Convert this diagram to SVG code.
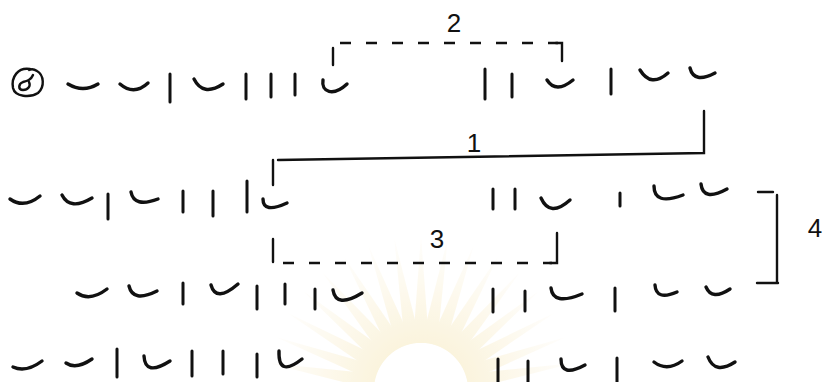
<svg xmlns="http://www.w3.org/2000/svg" xmlns:xlink="http://www.w3.org/1999/xlink" width="822" height="382" viewBox="0 0 822 382">
<style>
.b{fill:none;stroke:#111;stroke-width:3.4;stroke-linecap:round;stroke-linejoin:round}
.v{fill:none;stroke:#111;stroke-width:3;stroke-linecap:round}
.s{fill:none;stroke:#111;stroke-width:2.4;stroke-linecap:round}
.d{fill:none;stroke:#111;stroke-width:2.6;stroke-dasharray:11 15}
.lbl{font-family:"Liberation Sans",Arial,sans-serif;font-size:26px;fill:#111;text-anchor:middle}
</style>
<defs>
<radialGradient id="sun" gradientUnits="userSpaceOnUse" cx="421" cy="390" r="160">
<stop offset="0.25" stop-color="#f8ecc4"/>
<stop offset="0.6" stop-color="#fcf5e0"/>
<stop offset="1" stop-color="#ffffff"/>
</radialGradient>
<polygon id="ray" points="413,343 429,343 421,236" fill="url(#sun)"/>
</defs>
<rect width="822" height="382" fill="#fff"/>
<g id="watermark" opacity="0.6">
<use xlink:href="#ray" transform="rotate(-90 421 390)"/>
<use xlink:href="#ray" transform="rotate(-80 421 390)"/>
<use xlink:href="#ray" transform="rotate(-70 421 390)"/>
<use xlink:href="#ray" transform="rotate(-60 421 390)"/>
<use xlink:href="#ray" transform="rotate(-50 421 390)"/>
<use xlink:href="#ray" transform="rotate(-40 421 390)"/>
<use xlink:href="#ray" transform="rotate(-30 421 390)"/>
<use xlink:href="#ray" transform="rotate(-20 421 390)"/>
<use xlink:href="#ray" transform="rotate(-10 421 390)"/>
<use xlink:href="#ray"/>
<use xlink:href="#ray" transform="rotate(10 421 390)"/>
<use xlink:href="#ray" transform="rotate(20 421 390)"/>
<use xlink:href="#ray" transform="rotate(30 421 390)"/>
<use xlink:href="#ray" transform="rotate(40 421 390)"/>
<use xlink:href="#ray" transform="rotate(50 421 390)"/>
<use xlink:href="#ray" transform="rotate(60 421 390)"/>
<use xlink:href="#ray" transform="rotate(70 421 390)"/>
<use xlink:href="#ray" transform="rotate(80 421 390)"/>
<use xlink:href="#ray" transform="rotate(90 421 390)"/>
</g>

<g id="connectors">
<g id="bracket-2">
<path class="s" d="M333,48 V65"/>
<path class="d" d="M340,43 H558"/>
<path class="s" d="M556,43 H562 V61"/>
<text class="lbl" x="454" y="32">2</text>
</g>
<g id="bracket-1">
<path class="s" d="M273,160 V185"/>
<path class="s" d="M278,160 L704,153 V111"/>
<text class="lbl" x="474" y="152">1</text>
</g>
<g id="bracket-3">
<path class="s" d="M273,239 V262"/>
<path class="d" d="M283,263 H552"/>
<path class="s" d="M550,263 H557 V233"/>
<text class="lbl" x="437" y="248">3</text>
</g>
<g id="bracket-4">
<path class="s" d="M758,192 H773"/>
<path class="s" d="M777,195 V282"/>
<path class="s" d="M757,283 H778"/>
<text class="lbl" x="815" y="237">4</text>
</g>
</g>

<g id="line-1">
<g id="fongman">
<path class="s" stroke-width="3" d="M30,69 C18,67 11,77 13,88 C15,97 30,98 38,93 C45,87 44,75 37,71 C34,69 31,69 29,70"/>
<path class="s" stroke-width="2.6" d="M33,75 C31,80 27,81 23,82 C18,84 18,90 23,90 C28,90 31,86 29,82"/>
</g>
<path class="b" d="M68,84 Q83,93 98,84"/>
<path class="b" d="M120,84 Q134,96 148,83"/>
<path class="v" d="M170,74 V102"/>
<path class="b" d="M194,79 Q203,97 223,84"/>
<path class="v" d="M246,74 V99"/>
<path class="v" d="M271,74 V97"/>
<path class="v" d="M295,74 V95"/>
<path class="b" d="M323,80 C321,92 333,97 347,84"/>
<path class="v" d="M485,69 V99"/>
<path class="v" d="M512,74 V97"/>
<path class="b" d="M547,80 Q556,94 573,80"/>
<path class="v" d="M611,69 V94"/>
<path class="b" d="M640,70 Q651,88 668,73"/>
<path class="b" d="M690,68 Q694,84 715,73"/>
</g>

<g id="line-2">
<path class="b" d="M10,199 Q24,209 40,196"/>
<path class="b" d="M62,195 Q70,211 92,198"/>
<path class="v" d="M108,194 V219"/>
<path class="b" d="M131,192 Q134,208 158,199"/>
<path class="v" d="M183,191 V212"/>
<path class="v" d="M213,191 V216"/>
<path class="v" d="M247,181 V212"/>
<path class="b" d="M263,199 Q263,214 287,203"/>
<path class="v" d="M493,189 V209"/>
<path class="v" d="M515,189 V209"/>
<path class="b" d="M541,198 Q550,218 570,200"/>
<path class="v" d="M620,193 V206"/>
<path class="b" d="M654,186 Q654,206 683,195"/>
<path class="b" d="M701,184 Q703,202 727,189"/>
</g>

<g id="line-3">
<path class="b" d="M77,293 Q90,302 107,289"/>
<path class="b" d="M129,286 Q133,303 157,291"/>
<path class="v" d="M183,283 V304"/>
<path class="b" d="M211,285 Q216,303 238,284"/>
<path class="v" d="M257,286 V309"/>
<path class="v" d="M285,284 V304"/>
<path class="v" d="M315,289 V309"/>
<path class="b" d="M333,290 Q336,309 362,293"/>
<path class="v" d="M493,289 V312"/>
<path class="v" d="M525,291 V311"/>
<path class="b" d="M551,288 Q553,306 582,294"/>
<path class="v" d="M615,288 V311"/>
<path class="b" d="M655,285 Q656,301 677,292"/>
<path class="b" d="M706,287 Q712,301 730,289"/>
</g>

<g id="line-4">
<path class="b" d="M13,367 Q26,373 42,361"/>
<path class="b" d="M66,363 Q76,370 92,359"/>
<path class="v" d="M117,349 V377"/>
<path class="b" d="M144,356 Q145,377 170,361"/>
<path class="v" d="M192,351 V376"/>
<path class="v" d="M223,351 V374"/>
<path class="v" d="M257,354 V377"/>
<path class="b" d="M279,351 Q278,378 302,359"/>
<path class="v" d="M498,359 V382"/>
<path class="v" d="M528,361 V382"/>
<path class="b" d="M561,359 Q561,378 585,365"/>
<path class="v" d="M617,358 V382"/>
<path class="b" d="M654,362 Q667,372 682,361"/>
<path class="b" d="M708,357 Q715,375 735,362"/>
</g>
</svg>
